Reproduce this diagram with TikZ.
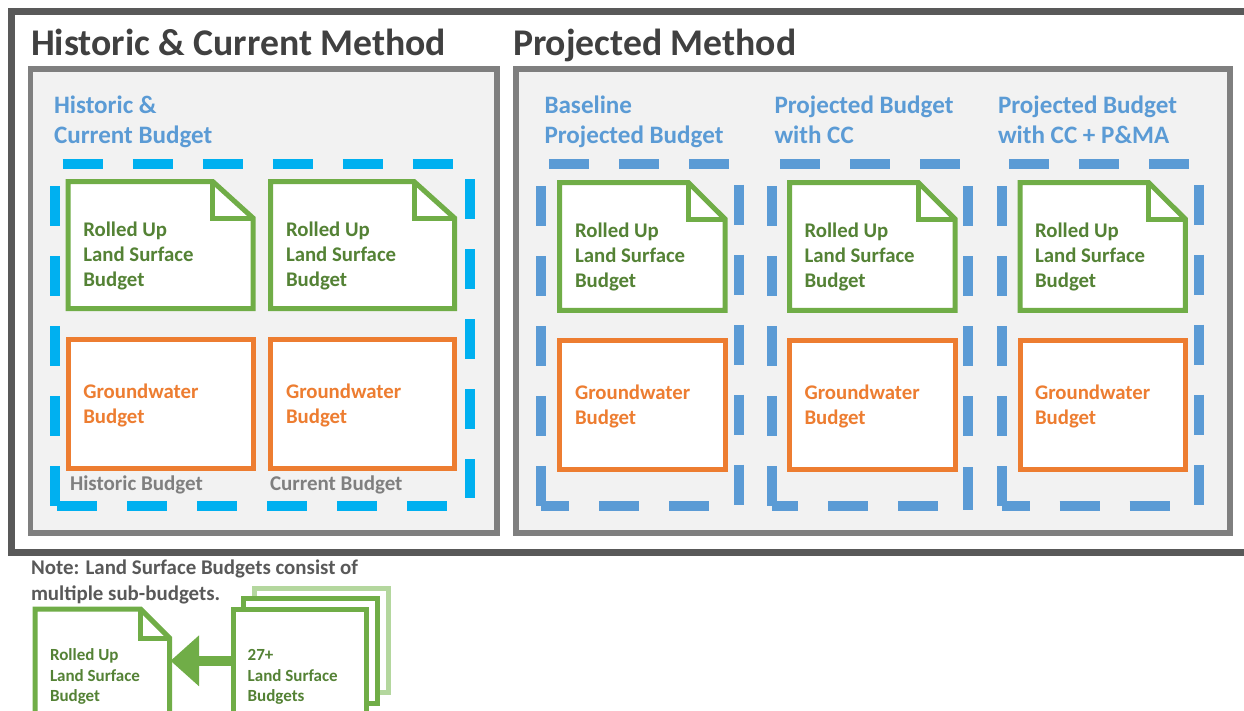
\documentclass[tikz,border=0pt]{standalone}
\usepackage{fontspec}
\setmainfont{Carlito}
\usetikzlibrary{arrows.meta}
\definecolor{outerc}{HTML}{595959}
\definecolor{panelc}{HTML}{7F7F7F}
\definecolor{panelf}{HTML}{F2F2F2}
\definecolor{headc}{HTML}{404040}
\definecolor{subc}{HTML}{5B9BD5}
\definecolor{cyanc}{HTML}{00B0F0}
\definecolor{greenc}{HTML}{70AD47}
\definecolor{greent}{HTML}{548235}
\definecolor{lightg}{HTML}{B4D79E}
\definecolor{orangec}{HTML}{ED7D31}
\tikzset{
  x=1pt,y=-1pt,
  every node/.style={inner sep=0pt,outer sep=0pt,anchor=base west,align=left},
  panelbox/.style={draw=panelc,fill=panelf,line width=5.6pt,line join=miter},
  headtext/.style={text=headc,font=\fontsize{37.7}{40}\selectfont\bfseries},
  subtext/.style={text=subc,font=\fontsize{25.1}{30}\selectfont\bfseries},
  greentext/.style={text=greent,font=\fontsize{20.8}{24.8}\selectfont\bfseries},
  orangetext/.style={text=orangec,font=\fontsize{20.8}{24.8}\selectfont\bfseries},
  graytext/.style={text=panelc,font=\fontsize{21}{22}\selectfont\bfseries},
  notetext/.style={text=outerc,font=\fontsize{20.9}{25.5}\selectfont\bfseries},
  smalltext/.style={text=greent,font=\fontsize{17}{20.2}\selectfont\bfseries},
  docline/.style={draw=greenc,fill=white,line width=5pt,line join=miter},
  gwline/.style={draw=orangec,fill=white,line width=5pt,line join=miter},
  dashcyan/.style={draw=cyanc,line width=10pt,dash pattern=on 40pt off 30pt},
  dashblue/.style={draw=subc,line width=10pt,dash pattern=on 40pt off 30pt},
}
% name, x1, x2, y1, y2, fold x, fold y, text x, last baseline
\newcommand{\rolledbox}[9]{%
  \draw[docline] (#2,#4) -- (#6,#4) -- (#3,#7) -- (#3,#5) -- (#2,#5) -- cycle;
  \draw[docline,fill=none] (#6,#4) -- (#6,#7) -- (#3,#7);
  \node[greentext] (#1) at (#8,#9) {Rolled Up\\Land Surface\\Budget};
}
\newcommand{\gwbox}[7]{%
  \draw[gwline] (#2,#4) rectangle (#3,#5);
  \node[orangetext] (#1) at (#6,#7) {Groundwater\\Budget};
}
\begin{document}
\begin{tikzpicture}
\clip (0,0) rectangle (1244,710);
\fill[white] (0,0) rectangle (1244,710);
\draw[draw=outerc,line width=6.4pt] (11.6,11.5) rectangle (1270,552.3);
\node[headtext] (h1) at (31,55) {Historic \& Current Method};
\node[headtext] (h2) at (513,55) {Projected Method};
\draw[panelbox] (30.5,69) rectangle (497,533);
\draw[panelbox] (515.7,69) rectangle (1230,533);
% sub headings
\node[subtext] (s1) at (54,143) {Historic \&\\Current Budget};
\node[subtext] (s2) at (544.5,143) {Baseline\\Projected Budget};
\node[subtext] (s3) at (774.5,143) {Projected Budget\\with CC};
\node[subtext] (s4) at (998,143) {Projected Budget\\with CC + P\&MA};
% dashed frames: left panel
\draw[dashcyan] (62.7,163.5) -- (455,163.5);
\draw[dashcyan] (55,186) -- (55,506);
\draw[dashcyan] (57,506) -- (450,506);
\draw[dashcyan] (470,179) -- (470,498);
% baseline
\draw[dashblue] (549.3,163.5) -- (730,163.5);
\draw[dashblue] (541,186) -- (541,506);
\draw[dashblue,dash phase=11.7pt] (541,506) -- (709.5,506);
\draw[dashblue] (739,184.7) -- (739,505);
% with CC
\draw[dashblue] (780,163.5) -- (960,163.5);
\draw[dashblue] (772,186) -- (772,506);
\draw[dashblue,dash phase=14pt] (772,506) -- (938,506);
\draw[dashblue] (968.3,186) -- (968.3,436);
\draw[draw=subc,line width=10pt] (968.3,467) -- (968.3,510);
% with CC + P&MA
\draw[dashblue] (1009,163.5) -- (1189.5,163.5);
\draw[dashblue] (1001.7,186) -- (1001.7,506);
\draw[dashblue,dash phase=12pt] (1001.7,506) -- (1170,506);
\draw[dashblue] (1199,184.7) -- (1199,505);
% budget boxes
\rolledbox{r1}{68}{253}{181.5}{308.5}{212.7}{218}{83.3}{286}
\rolledbox{r2}{270.5}{454.5}{181.5}{308.5}{414}{218}{286}{286}
\gwbox{g1}{68}{253}{339}{468}{83.3}{423}
\gwbox{g2}{270.5}{454.5}{339}{468}{286}{423}
\node[graytext] (l1) at (70,490) {Historic Budget};
\node[graytext] (l2) at (270,490) {Current Budget};
\rolledbox{r3}{559.7}{725}{182.5}{310.3}{688.3}{219}{575}{287}
\rolledbox{r4}{789.7}{955}{182.5}{310.3}{918.3}{219}{804.5}{287}
\rolledbox{r5}{1020}{1185.3}{182.5}{310.3}{1148.5}{219}{1035}{287}
\gwbox{g3}{559.7}{725}{340.5}{469.5}{575}{424}
\gwbox{g4}{789.7}{955}{340.5}{469.5}{804.5}{424}
\gwbox{g5}{1020}{1185.3}{340.5}{469.5}{1035}{424}
% note
\node[notetext] (n) at (31,600) {Note: Land Surface Budgets consist of\\multiple sub-budgets.};
\draw[docline,draw=lightg] (254,588.5) rectangle (388,692);
\draw[docline] (243,598) rectangle (377.5,703);
\draw[docline] (233,609) rectangle (366,730);
\draw[docline] (35,609) -- (140.5,609) -- (169.5,638) -- (169.5,730) -- (35,730) -- cycle;
\draw[docline,fill=none] (140.5,609) -- (140.5,638) -- (169.5,638);
\node[smalltext] (r6) at (50,701.2) {Rolled Up\\Land Surface\\Budget};
\node[smalltext] (sb) at (247.7,701.2) {27+\\Land Surface\\Budgets};
\coordinate (stackw) at (233,660.8);
\coordinate (rolle) at (170.5,660.8);
\draw[draw=greenc,fill=greenc,line width=10pt,-{Triangle[length=28.5pt,width=49pt]}] (stackw) -- (rolle);
\end{tikzpicture}
\end{document}
